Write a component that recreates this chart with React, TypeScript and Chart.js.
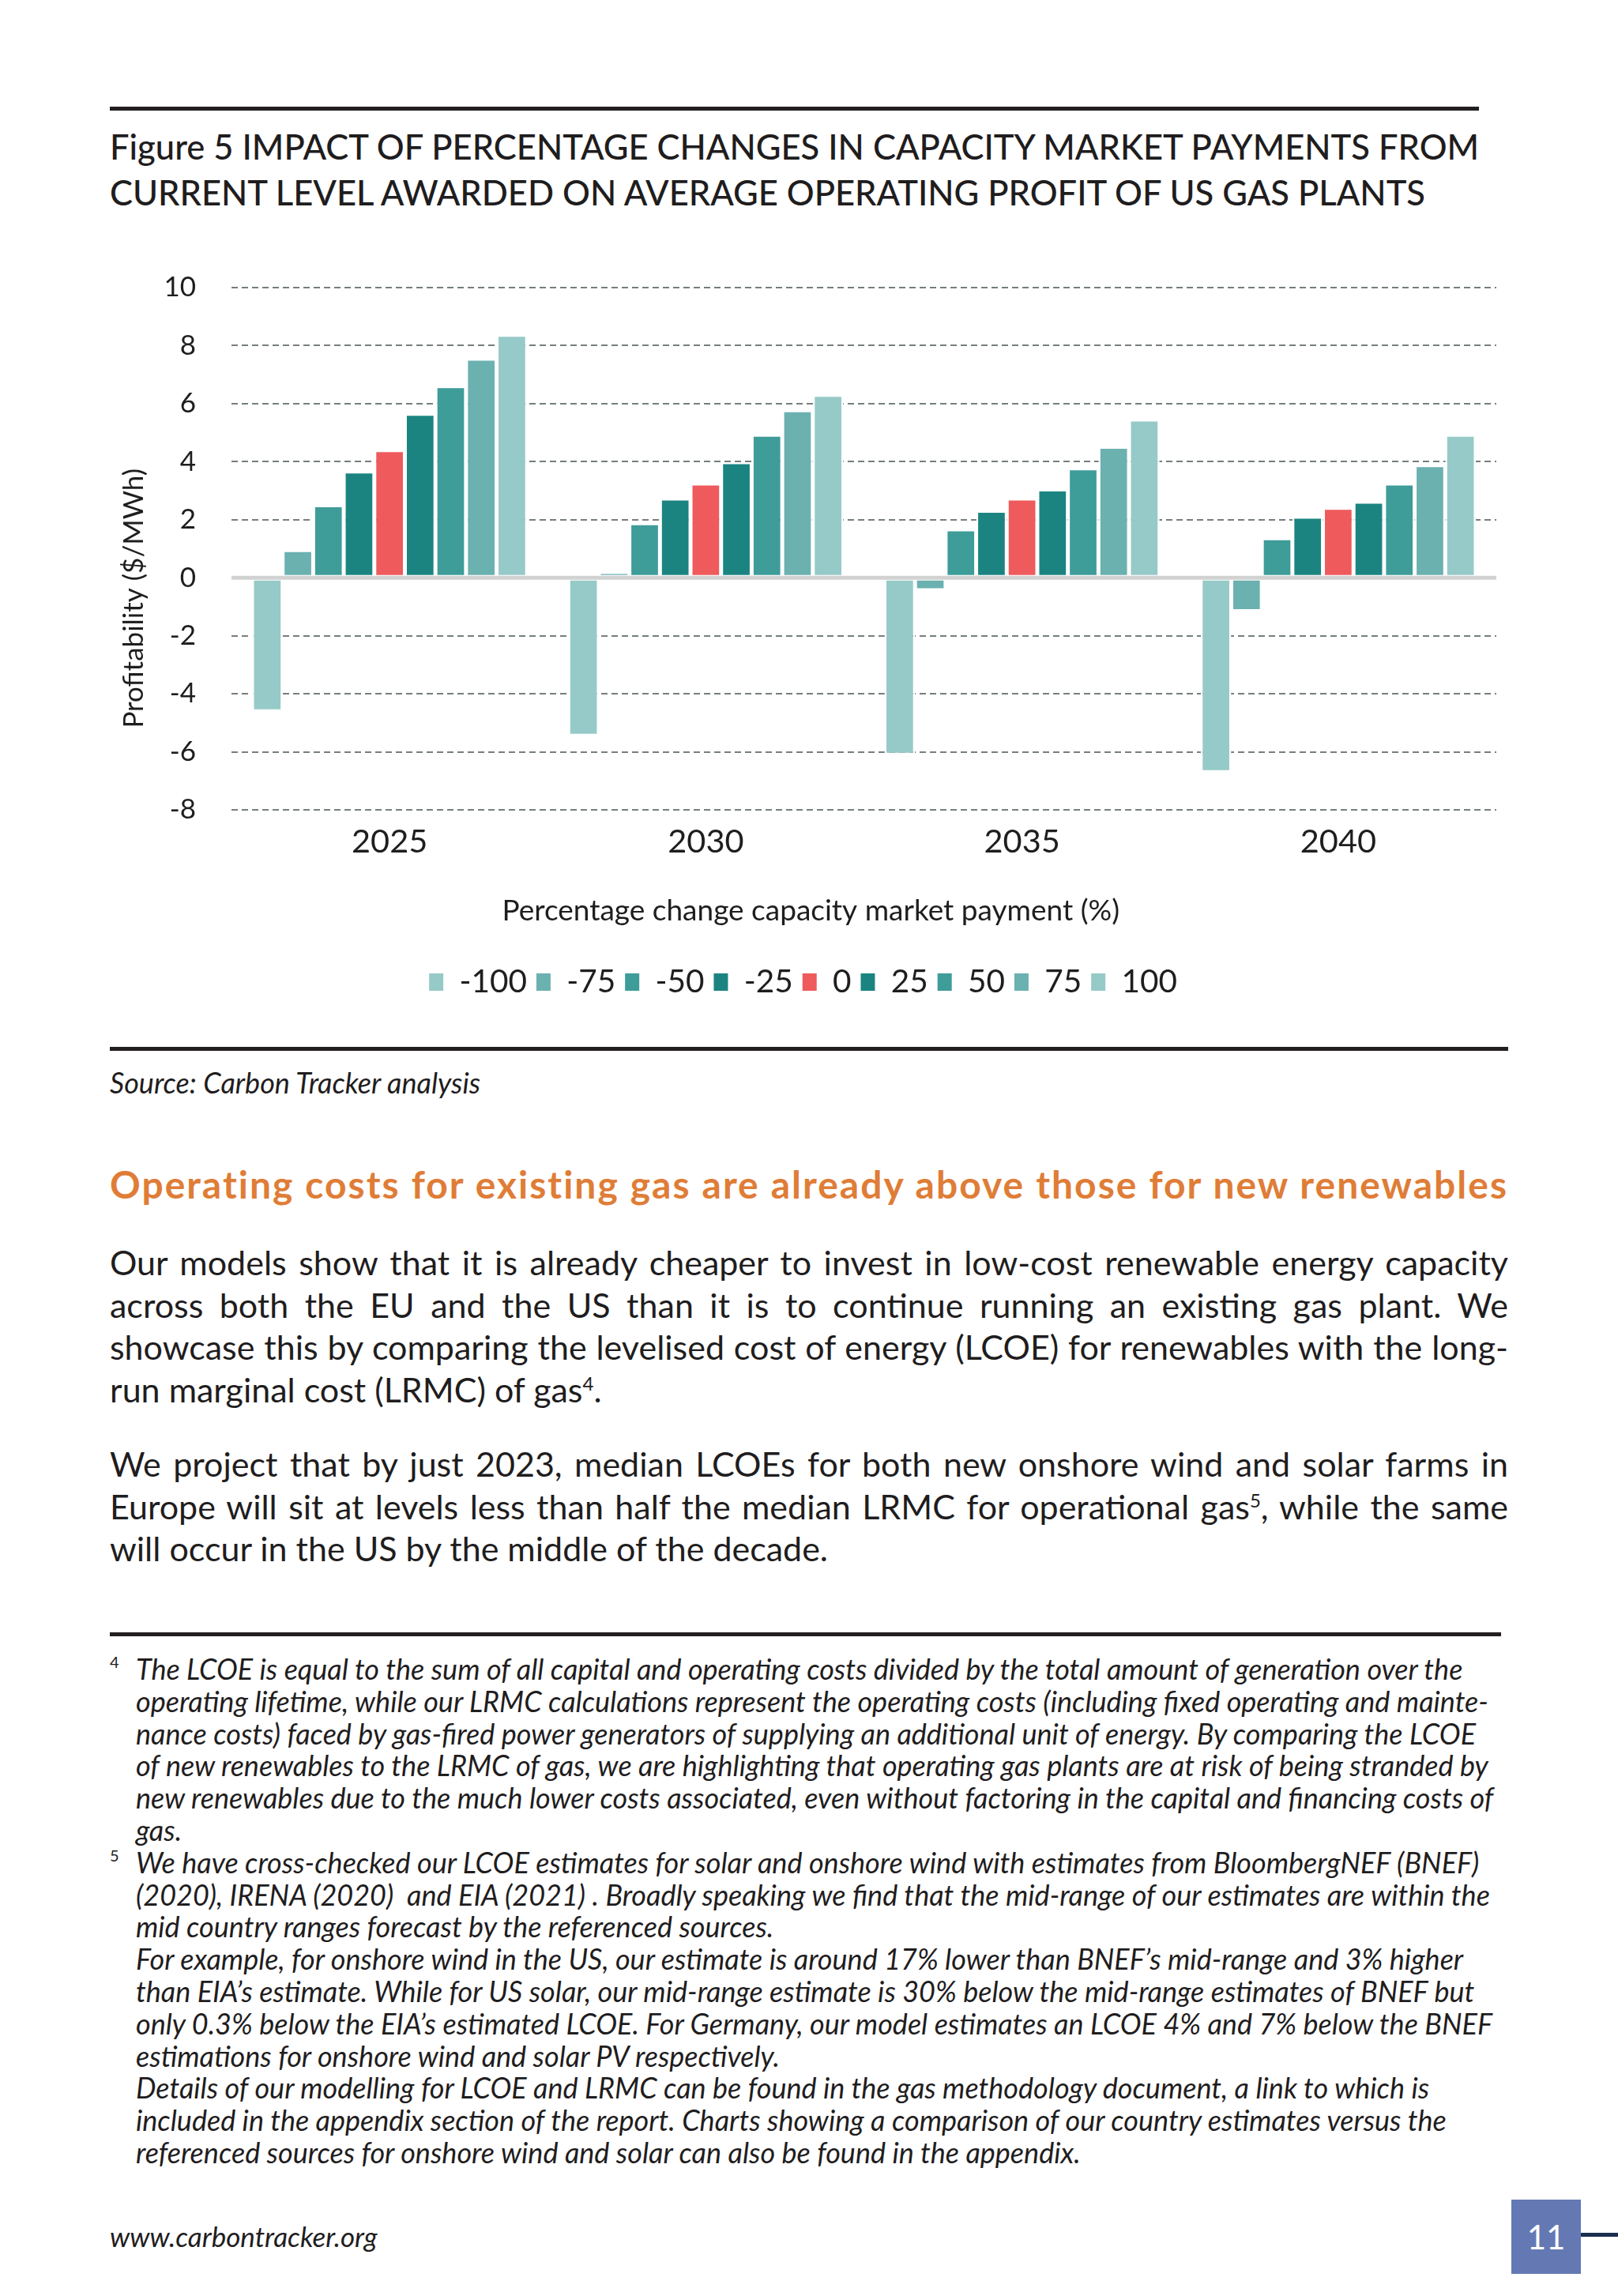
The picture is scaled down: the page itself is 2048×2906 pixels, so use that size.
import React, { useEffect, useRef } from "react";
import { Chart, registerables } from "chart.js";

Chart.register(...registerables);

// ---------------- DATA ----------------
const categories = ["2025", "2030", "2035", "2040"];
const seriesLabels = ["-100", "-75", "-50", "-25", "0", "25", "50", "75", "100"];
const seriesColors = [
  "#96CAC8",
  "#6BB1B0",
  "#3E9C99",
  "#1B8481",
  "#EF5A5C",
  "#1B8481",
  "#3E9C99",
  "#6BB1B0",
  "#96CAC8",
];
const changeM100 = [-4.6, -5.45, -6.1, -6.7];
const changeM75 = [0.95, 0.2, -0.43, -1.15];
const changeM50 = [2.5, 1.88, 1.67, 1.36];
const changeM25 = [3.66, 2.73, 2.31, 2.1];
const change0 = [4.4, 3.25, 2.73, 2.41];
const changeP25 = [5.65, 3.98, 3.04, 2.62];
const changeP50 = [6.6, 4.93, 3.77, 3.25];
const changeP75 = [7.55, 5.77, 4.51, 3.88];
const changeP100 = [8.37, 6.3, 5.45, 4.93];
const seriesValues = [
  changeM100,
  changeM75,
  changeM50,
  changeM25,
  change0,
  changeP25,
  changeP50,
  changeP75,
  changeP100,
];
const yMin = -8;
const yMax = 10;
const yStep = 2;
const yTitle = "Profitability ($/MWh)";
const xTitle = "Percentage change capacity market payment (%)";

const FONT = "Lato, 'Noto Sans', sans-serif";
const TEXT = "#1f1d1e";

const zeroLinePlugin = {
  id: "zeroLine",
  afterDatasetsDraw(chart: any) {
    const { ctx, chartArea } = chart;
    const y = chart.scales.y.getPixelForValue(0);
    ctx.save();
    ctx.strokeStyle = "#d2d2d2";
    ctx.lineWidth = 5;
    ctx.beginPath();
    ctx.moveTo(chartArea.left, y);
    ctx.lineTo(chartArea.right, y);
    ctx.stroke();
    ctx.restore();
  },
};

const axisTitlesPlugin = {
  id: "axisTitlesCustom",
  afterDraw(chart: any) {
    const { ctx, chartArea } = chart;
    ctx.save();
    ctx.fillStyle = TEXT;
    ctx.textAlign = "center";
    ctx.textBaseline = "middle";
    // x title
    ctx.font = `37px ${FONT}`;
    ctx.fillText(xTitle, chartArea.left + chartArea.width * 0.458, chartArea.bottom + 128);
    // y title
    ctx.translate(31, chartArea.top + chartArea.height * 0.595);
    ctx.rotate(-Math.PI / 2);
    ctx.font = `35px ${FONT}`;
    ctx.fillText(yTitle, 0, 0);
    ctx.restore();
  },
};

function BarChart() {
  const ref = useRef<HTMLCanvasElement | null>(null);
  useEffect(() => {
    if (!ref.current) return;
    const chart = new Chart(ref.current, {
      type: "bar",
      data: {
        labels: categories,
        datasets: seriesLabels.map((label, i) => ({
          label,
          data: seriesValues[i],
          backgroundColor: seriesColors[i],
          borderColor: "#ffffff",
          borderWidth: 2.5,
          borderSkipped: false,
          categoryPercentage: 0.87,
          barPercentage: 1.0,
        })),
      },
      options: {
        responsive: true,
        maintainAspectRatio: false,
        animation: false,
        layout: { padding: { top: 31, right: 35, bottom: 16.75, left: 0 } },
        plugins: {
          tooltip: { enabled: false },
          legend: {
            position: "bottom",
            labels: {
              boxWidth: 18,
              boxHeight: 22,
              padding: 12,
              color: TEXT,
              font: { size: 40.5, family: FONT },
              generateLabels: (c: any) =>
                c.data.datasets.map((ds: any, i: number) => ({
                  text: ds.label,
                  fillStyle: ds.backgroundColor,
                  strokeStyle: ds.backgroundColor,
                  lineWidth: 0,
                  hidden: false,
                  datasetIndex: i,
                  fontColor: TEXT,
                })),
            },
          },
        },
        scales: {
          x: {
            grid: { display: false, drawTicks: false },
            border: { display: false },
            ticks: { color: TEXT, font: { size: 41.5, family: FONT }, padding: 16 },
            title: { display: false },
            afterFit: (s: any) => {
              s.height = 185.75;
            },
          },
          y: {
            min: yMin,
            max: yMax,
            ticks: {
              stepSize: yStep,
              color: TEXT,
              font: { size: 35, family: FONT },
              padding: 45,
            },
            grid: {
              drawTicks: false,
              lineWidth: 2,
              color: (ctx: any) =>
                ctx.tick && ctx.tick.value === 0 ? "rgba(0,0,0,0)" : "#767e7e",
            },
            border: { display: false, dash: [8, 5] },
            afterFit: (s: any) => {
              s.width = 154;
            },
          },
        },
      },
      plugins: [zeroLinePlugin, axisTitlesPlugin],
    } as any);
    return () => chart.destroy();
  }, []);
  return <canvas ref={ref} />;
}

const para1 = [
  "Our models show that it is already cheaper to invest in low-cost renewable energy capacity",
  "across both the EU and the US than it is to continue running an existing gas plant. We",
  "showcase this by comparing the levelised cost of energy (LCOE) for renewables with the long-",
];
const para2 = [
  "We project that by just 2023, median LCOEs for both new onshore wind and solar farms in",
];

const fn4 = [
  "The LCOE is equal to the sum of all capital and operating costs divided by the total amount of generation over the",
  "operating lifetime, while our LRMC calculations represent the operating costs (including fixed operating and mainte-",
  "nance costs) faced by gas-fired power generators of supplying an additional unit of energy. By comparing the LCOE",
  "of new renewables to the LRMC of gas, we are highlighting that operating gas plants are at risk of being stranded by",
  "new renewables due to the much lower costs associated, even without factoring in the capital and financing costs of",
  "gas.",
];
const fn5 = [
  "We have cross-checked our LCOE estimates for solar and onshore wind with estimates from BloombergNEF (BNEF)",
  "(2020), IRENA (2020)\u00a0 and EIA (2021) . Broadly speaking we find that the mid-range of our estimates are within the",
  "mid country ranges forecast by the referenced sources.",
  "For example, for onshore wind in the US, our estimate is around 17% lower than BNEF’s mid-range and 3% higher",
  "than EIA’s estimate. While for US solar, our mid-range estimate is 30% below the mid-range estimates of BNEF but",
  "only 0.3% below the EIA’s estimated LCOE. For Germany, our model estimates an LCOE 4% and 7% below the BNEF",
  "estimations for onshore wind and solar PV respectively.",
  "Details of our modelling for LCOE and LRMC can be found in the gas methodology document, a link to which is",
  "included in the appendix section of the report. Charts showing a comparison of our country estimates versus the",
  "referenced sources for onshore wind and solar can also be found in the appendix.",
];

const abs = (o: React.CSSProperties): React.CSSProperties => ({ position: "absolute", ...o });

const justLine: React.CSSProperties = {
  textAlign: "justify",
  textAlignLast: "justify" as any,
  whiteSpace: "nowrap",
  height: 53.7,
  lineHeight: "53.7px",
};

const fnLine: React.CSSProperties = {
  position: "relative",
  height: 40.8,
  lineHeight: "40.8px",
  paddingLeft: 33,
  whiteSpace: "nowrap",
};

const fnNum: React.CSSProperties = {
  position: "absolute",
  left: 0,
  top: -9,
  fontSize: 20,
  fontStyle: "normal",
};

export default function App() {
  return (
    <div
      style={{
        position: "absolute",
        left: 0,
        top: 0,
        width: 2048,
        height: 2906,
        background: "#ffffff",
        fontFamily: FONT,
        color: TEXT,
        overflow: "hidden",
      }}
    >
      {/* top rule */}
      <div style={abs({ left: 139, top: 135, width: 1733, height: 5, background: "#231f20" })} />
      <div style={abs({ left: 139, top: 156, fontSize: 43.5, lineHeight: "58px", whiteSpace: "nowrap", fontWeight: 500 })}>
        Figure 5 IMPACT OF PERCENTAGE CHANGES IN CAPACITY MARKET PAYMENTS FROM
        <br />
        CURRENT LEVEL AWARDED ON AVERAGE OPERATING PROFIT OF US GAS PLANTS
      </div>

      {/* chart */}
      <div style={abs({ left: 139, top: 298, width: 1790, height: 992 })}>
        <BarChart />
      </div>

      {/* bottom chart rule */}
      <div style={abs({ left: 139, top: 1325, width: 1770, height: 5, background: "#231f20" })} />
      <div style={abs({ left: 139, top: 1348, fontSize: 36, lineHeight: "44px", fontStyle: "italic" })}>
        Source: Carbon Tracker analysis
      </div>

      {/* heading */}
      <div
        style={abs({
          left: 139,
          top: 1469,
          width: 1770,
          fontSize: 48,
          lineHeight: "60px",
          fontWeight: 700,
          color: "#DF7D37",
          whiteSpace: "nowrap",
          textAlign: "justify",
          textAlignLast: "justify" as any,
          letterSpacing: 2,
        })}
      >
        Operating costs for existing gas are already above those for new renewables
      </div>

      {/* paragraph 1 */}
      <div style={abs({ left: 139, top: 1571, width: 1770, fontSize: 43 })}>
        {para1.map((l, i) => (
          <div key={i} style={justLine}>
            {l}
          </div>
        ))}
        <div style={{ ...justLine, textAlignLast: "left" as any }}>
          run marginal cost (LRMC) of gas<sup style={{ fontSize: 24, lineHeight: 0 }}>4</sup>.
        </div>
      </div>

      {/* paragraph 2 */}
      <div style={abs({ left: 139, top: 1826, width: 1770, fontSize: 43 })}>
        {para2.map((l, i) => (
          <div key={i} style={justLine}>
            {l}
          </div>
        ))}
        <div style={justLine}>
          Europe will sit at levels less than half the median LRMC for operational gas
          <sup style={{ fontSize: 24, lineHeight: 0 }}>5</sup>, while the same
        </div>
        <div style={{ ...justLine, textAlignLast: "left" as any }}>
          will occur in the US by the middle of the decade.
        </div>
      </div>

      {/* footnote rule */}
      <div style={abs({ left: 139, top: 2066, width: 1761, height: 5, background: "#231f20" })} />

      {/* footnotes */}
      <div style={abs({ left: 139, top: 2092, width: 1800, fontSize: 36, fontStyle: "italic" })}>
        {fn4.map((l, i) => (
          <div key={"a" + i} style={fnLine}>
            {i === 0 && <span style={fnNum}>4</span>}
            {l}
          </div>
        ))}
        {fn5.map((l, i) => (
          <div key={"b" + i} style={fnLine}>
            {i === 0 && <span style={fnNum}>5</span>}
            {l}
          </div>
        ))}
      </div>

      {/* footer */}
      <div style={abs({ left: 139, top: 2808, fontSize: 35, lineHeight: "44px", fontStyle: "italic" })}>
        www.carbontracker.org
      </div>
      <div
        style={abs({
          left: 1913,
          top: 2784,
          width: 88,
          height: 94,
          background: "#6479B4",
          color: "#ffffff",
          fontSize: 42,
          lineHeight: "94px",
          textAlign: "center",
        })}
      >
        11
      </div>
      <div style={abs({ left: 2001, top: 2826, width: 47, height: 5, background: "#1b2f4f" })} />
    </div>
  );
}
